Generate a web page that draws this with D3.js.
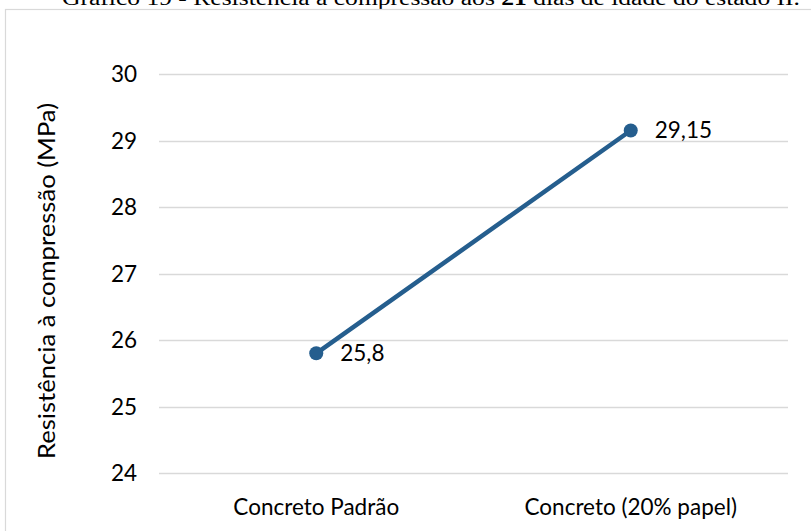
<!DOCTYPE html>
<html><head><meta charset="utf-8">
<script src="https://cdn.jsdelivr.net/npm/d3@7"></script>
<style>body{margin:0;background:#fff;}svg{display:block;}</style>
</head><body>
<svg id="c" width="811" height="531"></svg>
<script>
const categories = ["Concreto Padrão", "Concreto (20% papel)"];
const values = [25.8, 29.15];
const valueLabels = ["25,8", "29,15"];
const yTicks = [24, 25, 26, 27, 28, 29, 30];
const yTitle = "Resistência à compressão (MPa)";

const svg = d3.select("#c");
const font = "Lato, 'Open Sans', sans-serif";
const fs = 22.5;

// caption (partially cropped at top)
const cap = svg.append("text").attr("x", 62).attr("y", 4.5)
  .attr("font-family", "'Liberation Serif', 'Times New Roman', serif")
  .attr("font-size", 20).attr("fill", "#000")
  .attr("textLength", 738).attr("lengthAdjust", "spacingAndGlyphs");
cap.append("tspan").text("Gráfico 19 - Resistência à compressão aos ");
cap.append("tspan").attr("font-weight", "bold").text("21");
cap.append("tspan").text(" dias de idade do estado II.");

// chart frame
svg.append("rect").attr("x", 5.5).attr("y", 9.5).attr("width", 900).attr("height", 600)
  .attr("fill", "none").attr("stroke", "#d9d9d9").attr("stroke-width", 1.2);

const x = d3.scaleBand().domain(categories).range([159, 788]);
const y = d3.scaleLinear().domain([24, 30]).range([473, 74]);

// gridlines
svg.append("g").selectAll("line").data(yTicks).join("line")
  .attr("x1", 159).attr("x2", 788)
  .attr("y1", d => Math.round(y(d)) + 0.5).attr("y2", d => Math.round(y(d)) + 0.5)
  .attr("stroke", "#d9d9d9").attr("stroke-width", 1.4);

// y axis labels
const yAxis = d3.axisLeft(y).tickValues(yTicks).tickFormat(d3.format("d")).tickSize(0).tickPadding(0);
const gy = svg.append("g").attr("transform", "translate(137,0)").call(yAxis);
gy.select(".domain").remove();
gy.selectAll("text").attr("font-family", font).attr("font-size", fs).attr("fill", "#000")
  .attr("dy", "0.35em");

// x axis labels
const xAxis = d3.axisBottom(x).tickSize(0).tickPadding(0);
const gx = svg.append("g").attr("transform", "translate(0,515)").call(xAxis);
gx.select(".domain").remove();
gx.selectAll("text").attr("font-family", font).attr("font-size", fs).attr("fill", "#000")
  .attr("dy", 0);

// y title
svg.append("text")
  .attr("transform", "translate(55,281) rotate(-90)")
  .attr("text-anchor", "middle")
  .attr("font-family", font).attr("font-size", 24).attr("fill", "#000")
  .attr("textLength", 356).attr("lengthAdjust", "spacingAndGlyphs")
  .text(yTitle);

const color = "#255e8e";
const pts = categories.map((c, i) => [x(c) + x.bandwidth() / 2, y(values[i])]);

svg.append("path").attr("d", d3.line()(pts))
  .attr("fill", "none").attr("stroke", color).attr("stroke-width", 4.5)
  .attr("stroke-linecap", "round");

svg.append("g").selectAll("circle").data(pts).join("circle")
  .attr("cx", d => d[0]).attr("cy", d => d[1]).attr("r", 7).attr("fill", color);

svg.append("g").selectAll("text").data(pts).join("text")
  .attr("x", d => d[0] + 24).attr("y", d => d[1])
  .attr("dy", "0.35em")
  .attr("font-family", font).attr("font-size", fs).attr("fill", "#000")
  .text((d, i) => valueLabels[i]);
</script>
</body></html>
